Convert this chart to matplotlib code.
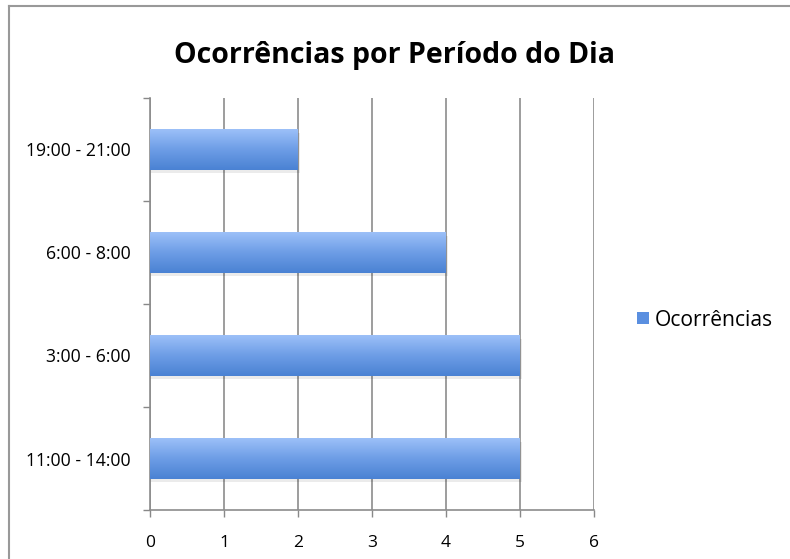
import matplotlib
matplotlib.use("Agg")
import matplotlib.pyplot as plt
import numpy as np
from matplotlib.lines import Line2D
from matplotlib.patches import Rectangle
from matplotlib.colors import LinearSegmentedColormap

categories = ["11:00 - 14:00", "3:00 - 6:00", "6:00 - 8:00", "19:00 - 21:00"]
values = [5, 5, 4, 2]
xticks = [0, 1, 2, 3, 4, 5, 6]
series_name = "Ocorrências"
title = "Ocorrências por Período do Dia"

W, H = 790, 559
fig = plt.figure(figsize=(W / 100, H / 100), dpi=100)
plt.rcParams['font.family'] = ['Open Sans', 'DejaVu Sans']

ax = fig.add_axes([150 / W, 1 - 510 / H, (594 - 150) / W, (510 - 98) / H])
ax.set_xlim(0, 6)
ax.set_ylim(-0.5, len(categories) - 0.5)

cmap = LinearSegmentedColormap.from_list("g", ["#4a82d3", "#6d9de6", "#9cc0f8"])
grad = np.linspace(0, 1, 100).reshape(-1, 1)
bh = 0.39
for i, v in enumerate(values):
    ax.add_patch(Rectangle((0, i - bh / 2 - 0.03), v + 0.03, bh, color="#000000", alpha=0.08, lw=0, zorder=2))
    ax.imshow(grad, cmap=cmap, aspect="auto", origin="lower",
              extent=(0, v, i - bh / 2, i + bh / 2), zorder=3)

ax.set_xticks(xticks)
ax.set_xticklabels([str(t) for t in xticks], fontsize=12.5)
ax.set_yticks(range(len(categories)))
ax.set_yticklabels(categories, fontsize=12.7)
ax.set_yticks(np.arange(-0.5, len(categories), 1.0), minor=True)
ax.tick_params(axis="y", which="major", length=0, pad=14)
ax.tick_params(axis="y", which="minor", length=5, color="#888888", width=1)
ax.tick_params(axis="x", which="major", length=5, color="#888888", width=1, pad=13)
ax.grid(axis="x", color="#8c8c8c", lw=1.2, zorder=1)
ax.set_axisbelow(True)
for s in ["top", "right"]:
    ax.spines[s].set_visible(False)
for s in ["left", "bottom"]:
    ax.spines[s].set_color("#8c8c8c")
    ax.spines[s].set_linewidth(1.2)

fig.text(394 / W, 1 - 56 / H, title, ha="center", va="center", fontsize=20.5, fontweight="bold")

# legend
fig.patches.append(Rectangle((637 / W, 1 - 324 / H), 12 / W, 12 / H, transform=fig.transFigure,
                             facecolor="#5a8fe0", edgecolor="none"))
fig.text(655 / W, 1 - 320 / H, series_name, ha="left", va="center", fontsize=15.2)

# chart border (left & top)
fig.add_artist(Line2D([8.5 / W, 8.5 / W], [0, 1 - 5.5 / H], color="#999999", lw=1.5, transform=fig.transFigure))
fig.add_artist(Line2D([8.5 / W, 1], [1 - 5.5 / H, 1 - 5.5 / H], color="#999999", lw=1.5, transform=fig.transFigure))

fig.savefig("out.png", dpi=100)
